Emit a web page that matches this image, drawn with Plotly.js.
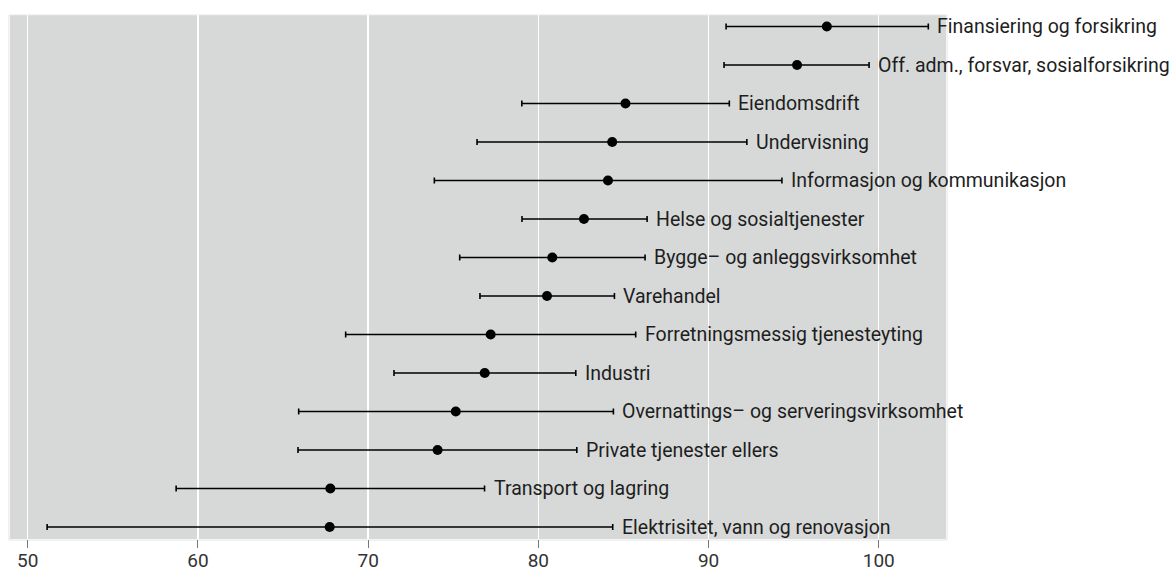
<!DOCTYPE html>
<html>
<head>
<meta charset="utf-8">
<script src="https://cdn.plot.ly/plotly-3.0.1.min.js"></script>
<style>
  html, body { margin: 0; padding: 0; background: #ffffff; }
  #chart { width: 1172px; height: 574px; }
</style>
</head>
<body>
<div id="chart"></div>
<script>
// Categories, bottom to top
const categories = [
  "Elektrisitet, vann og renovasjon",
  "Transport og lagring",
  "Private tjenester ellers",
  "Overnattings– og serveringsvirksomhet",
  "Industri",
  "Forretningsmessig tjenesteyting",
  "Varehandel",
  "Bygge– og anleggsvirksomhet",
  "Helse og sosialtjenester",
  "Informasjon og kommunikasjon",
  "Undervisning",
  "Eiendomsdrift",
  "Off. adm., forsvar, sosialforsikring",
  "Finansiering og forsikring"
];
// Point estimates
const estimate = [67.74, 67.78, 74.08, 75.15, 76.85, 77.2, 80.51, 80.82, 82.68, 84.09, 84.34, 85.12, 95.2, 96.95];
// Lower bounds
const lower = [51.14, 58.72, 65.88, 65.92, 71.52, 68.68, 76.57, 75.38, 79.04, 73.89, 76.4, 79.03, 90.91, 91.03];
// Upper bounds
const upper = [84.37, 76.84, 82.26, 84.41, 82.2, 85.72, 84.47, 86.27, 86.39, 94.31, 92.25, 91.22, 99.43, 102.91];
// X tick values
const xTicks = [50, 60, 70, 80, 90, 100];

const FONT = "Roboto, 'Noto Sans', sans-serif";

const trace = {
  type: "scatter",
  mode: "markers",
  x: estimate,
  y: categories,
  marker: { color: "#000000", size: 10 },
  error_x: {
    type: "data",
    symmetric: false,
    array: upper.map((u, i) => u - estimate[i]),
    arrayminus: lower.map((l, i) => estimate[i] - l),
    color: "#000000",
    thickness: 1.6,
    width: 3
  },
  hoverinfo: "x+y",
  showlegend: false,
  cliponaxis: false
};

const annotations = categories.map((c, i) => ({
  x: upper[i],
  y: c,
  xref: "x",
  yref: "y",
  text: c,
  showarrow: false,
  xanchor: "left",
  yanchor: "middle",
  xshift: 7,
  font: { family: FONT, size: 19.5, color: "#1e1e1e" }
}));

const layout = {
  width: 1172,
  height: 574,
  margin: { l: 10, r: 226, t: 15, b: 35, pad: 0 },
  paper_bgcolor: "#ffffff",
  plot_bgcolor: "#d7d9d9",
  font: { family: FONT, size: 19, color: "#333333" },
  xaxis: {
    range: [48.96, 103.95],
    tickvals: xTicks,
    ticktext: xTicks.map(String),
    showgrid: true,
    gridcolor: "#ffffff",
    gridwidth: 1.3,
    zeroline: false,
    showline: false,
    ticks: "outside",
    ticklen: 8,
    tickwidth: 1,
    tickcolor: "#777777",
    ticklabelstandoff: -4,
    tickfont: { family: FONT, size: 19, color: "#333333" },
    fixedrange: true
  },
  yaxis: {
    type: "category",
    categoryorder: "array",
    categoryarray: categories,
    range: [-0.31, 13.3],
    showgrid: false,
    zeroline: false,
    showline: false,
    showticklabels: false,
    ticks: "",
    fixedrange: true
  },
  shapes: [{
    type: "rect",
    xref: "paper", yref: "paper",
    x0: -0.0012, x1: 1.0012, y0: -0.002, y1: 1,
    line: { color: "#e6e6e6", width: 1 },
    fillcolor: "rgba(0,0,0,0)",
    layer: "below"
  }],
  annotations: annotations,
  showlegend: false
};

Plotly.newPlot("chart", [trace], layout, { displayModeBar: false, staticPlot: true });
</script>
</body>
</html>
